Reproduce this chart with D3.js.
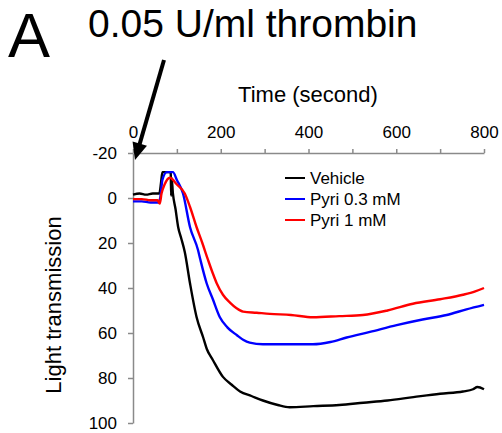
<!DOCTYPE html>
<html>
<head>
<meta charset="utf-8">
<script src="https://cdn.jsdelivr.net/npm/d3@7"></script>
<style>
  body { margin: 0; background: #fff; }
  text { font-family: "Liberation Sans", Arial, sans-serif; }
</style>
</head>
<body>
<script>
// values (time in seconds, light transmission)
var xTicks = [0, 100, 200, 300, 400, 500, 600, 700, 800];
var yTicks = [-20, 0, 20, 40, 60, 80, 100];
var seriesNames = ["Vehicle", "Pyri 0.3 mM", "Pyri 1 mM"];
var seriesColors = ["#000000", "#0000ff", "#ff0000"];

var vehicleTime = [0, 15, 30, 45, 60, 64, 67, 78, 84, 86, 87, 88, 91, 97, 103, 110, 118, 130, 145, 160, 168, 182, 205, 225, 244, 270, 296, 330, 357, 411, 470, 525, 580, 639, 700, 752, 775, 785, 800];
var vehicleValue = [-1.5, -2, -1.5, -2, -2, -7, -11.5, -11.5, -11.5, -11, -1, -9, -2, 5, 13, 18, 24, 38, 53, 62, 67, 72, 79.5, 83, 86, 88, 90, 92, 93, 92.5, 92, 91, 90, 88.5, 87, 86, 85, 84, 85];

var pyri03Time = [0, 20, 40, 58, 62, 67, 77, 91, 100, 114, 130, 148, 153, 168, 182, 198, 215, 237, 251, 266, 296, 335, 410, 450, 487, 540, 601, 660, 715, 760, 800];
var pyri03Value = [1.5, 1.5, 2, 2, 0, -8, -11.5, -11.5, -8, -2, 13, 23, 27, 38, 45, 53, 57.5, 61, 63, 64.3, 65, 65, 65, 64, 62, 59.5, 56.5, 54, 52, 49.5, 47.5];

var pyri1Time = [0, 20, 40, 56, 61, 65, 72, 84, 100, 118, 130, 145, 158, 171, 181, 191, 205, 221, 236, 251, 282, 312, 360, 410, 470, 524, 580, 638, 700, 752, 780, 800];
var pyri1Value = [0.5, 0.5, 1, 1, 2.5, -2, -6, -9, -6, -2, 4, 13, 20, 27.5, 33, 38, 43, 46.5, 49, 50.5, 51, 51.5, 52, 53, 52.5, 52, 50, 47, 45, 43, 41.5, 40];

var seriesTimes = [vehicleTime, pyri03Time, pyri1Time];
var seriesValues = [vehicleValue, pyri03Value, pyri1Value];

var width = 502, height = 433;

var svg = d3.select("body")
  .append("svg")
  .attr("width", width)
  .attr("height", height);

svg.append("rect")
  .attr("width", width)
  .attr("height", height)
  .attr("fill", "#fff");

var x = d3.scaleLinear().domain([0, 800]).range([133, 484]);
var y = d3.scaleLinear().domain([-20, 100]).range([153, 423]);

// x axis sits on top, labels every 200
svg.append("g")
  .attr("transform", "translate(0," + y(-20) + ")")
  .call(d3.axisTop(x)
    .tickValues(xTicks)
    .tickSize(4)
    .tickSizeOuter(0)
    .tickPadding(11)
    .tickFormat(function (d) { return d % 200 === 0 ? String(d) : ""; }));

svg.append("g")
  .attr("transform", "translate(" + x(0) + ",0)")
  .call(d3.axisLeft(y)
    .tickValues(yTicks)
    .tickSize(5)
    .tickSizeOuter(0)
    .tickPadding(11)
    .tickFormat(function (d) { return String(d); })); // plain hyphen like the original

svg.selectAll(".domain, .tick line")
  .attr("stroke", "#8a8a8a")
  .attr("stroke-width", 1.5);

svg.selectAll(".tick text")
  .style("font-family", "'Liberation Sans', Arial, sans-serif")
  .style("font-size", "17px")
  .attr("fill", "#000");

// the traces
var line = d3.line()
  .curve(d3.curveMonotoneX)
  .x(function (d) { return x(d[0]); })
  .y(function (d) { return y(d[1]); });

seriesNames.forEach(function (name, i) {
  var pts = seriesTimes[i].map(function (t, j) { return [t, seriesValues[i][j]]; });
  svg.append("path")
    .datum(pts)
    .attr("fill", "none")
    .attr("stroke", seriesColors[i])
    .attr("stroke-width", 2.4)
    .attr("stroke-linejoin", "round")
    .attr("d", line);
});

// legend
var legend = svg.append("g").attr("transform", "translate(285,178)");
seriesNames.forEach(function (name, i) {
  var row = legend.append("g").attr("transform", "translate(0," + (i * 21) + ")");
  row.append("line")
    .attr("x1", 0).attr("x2", 20)
    .attr("stroke", seriesColors[i])
    .attr("stroke-width", 2);
  row.append("text")
    .attr("x", 25)
    .attr("dy", "0.35em")
    .style("font-size", "17px")
    .text(name);
});

// axis titles
svg.append("text")
  .attr("x", 308)
  .attr("y", 102)
  .attr("text-anchor", "middle")
  .style("font-size", "22px")
  .text("Time (second)");

svg.append("text")
  .attr("transform", "translate(61,305) rotate(-90)")
  .attr("text-anchor", "middle")
  .style("font-size", "22px")
  .text("Light transmission");

// panel letter and annotation
svg.append("text")
  .attr("x", 8)
  .attr("y", 57)
  .style("font-size", "63px")
  .text("A");

svg.append("text")
  .attr("x", 88)
  .attr("y", 37)
  .style("font-size", "39px")
  .text("0.05 U/ml thrombin");

// arrow pointing to the time of addition
var a0 = [164, 60], a1 = [135, 160];
var dx = a1[0] - a0[0], dy = a1[1] - a0[1];
var len = Math.sqrt(dx * dx + dy * dy);
var ux = dx / len, uy = dy / len;
var headLen = 17, headW = 7.5;
var bx = a1[0] - headLen * ux, by = a1[1] - headLen * uy;

svg.append("line")
  .attr("x1", a0[0]).attr("y1", a0[1])
  .attr("x2", bx + 2 * ux).attr("y2", by + 2 * uy)
  .attr("stroke", "#000")
  .attr("stroke-width", 4);

svg.append("polygon")
  .attr("points", [
    [a1[0], a1[1]],
    [bx - headW * uy, by + headW * ux],
    [bx + headW * uy, by - headW * ux]
  ].map(function (p) { return p.join(","); }).join(" "))
  .attr("fill", "#000");
</script>
</body>
</html>
